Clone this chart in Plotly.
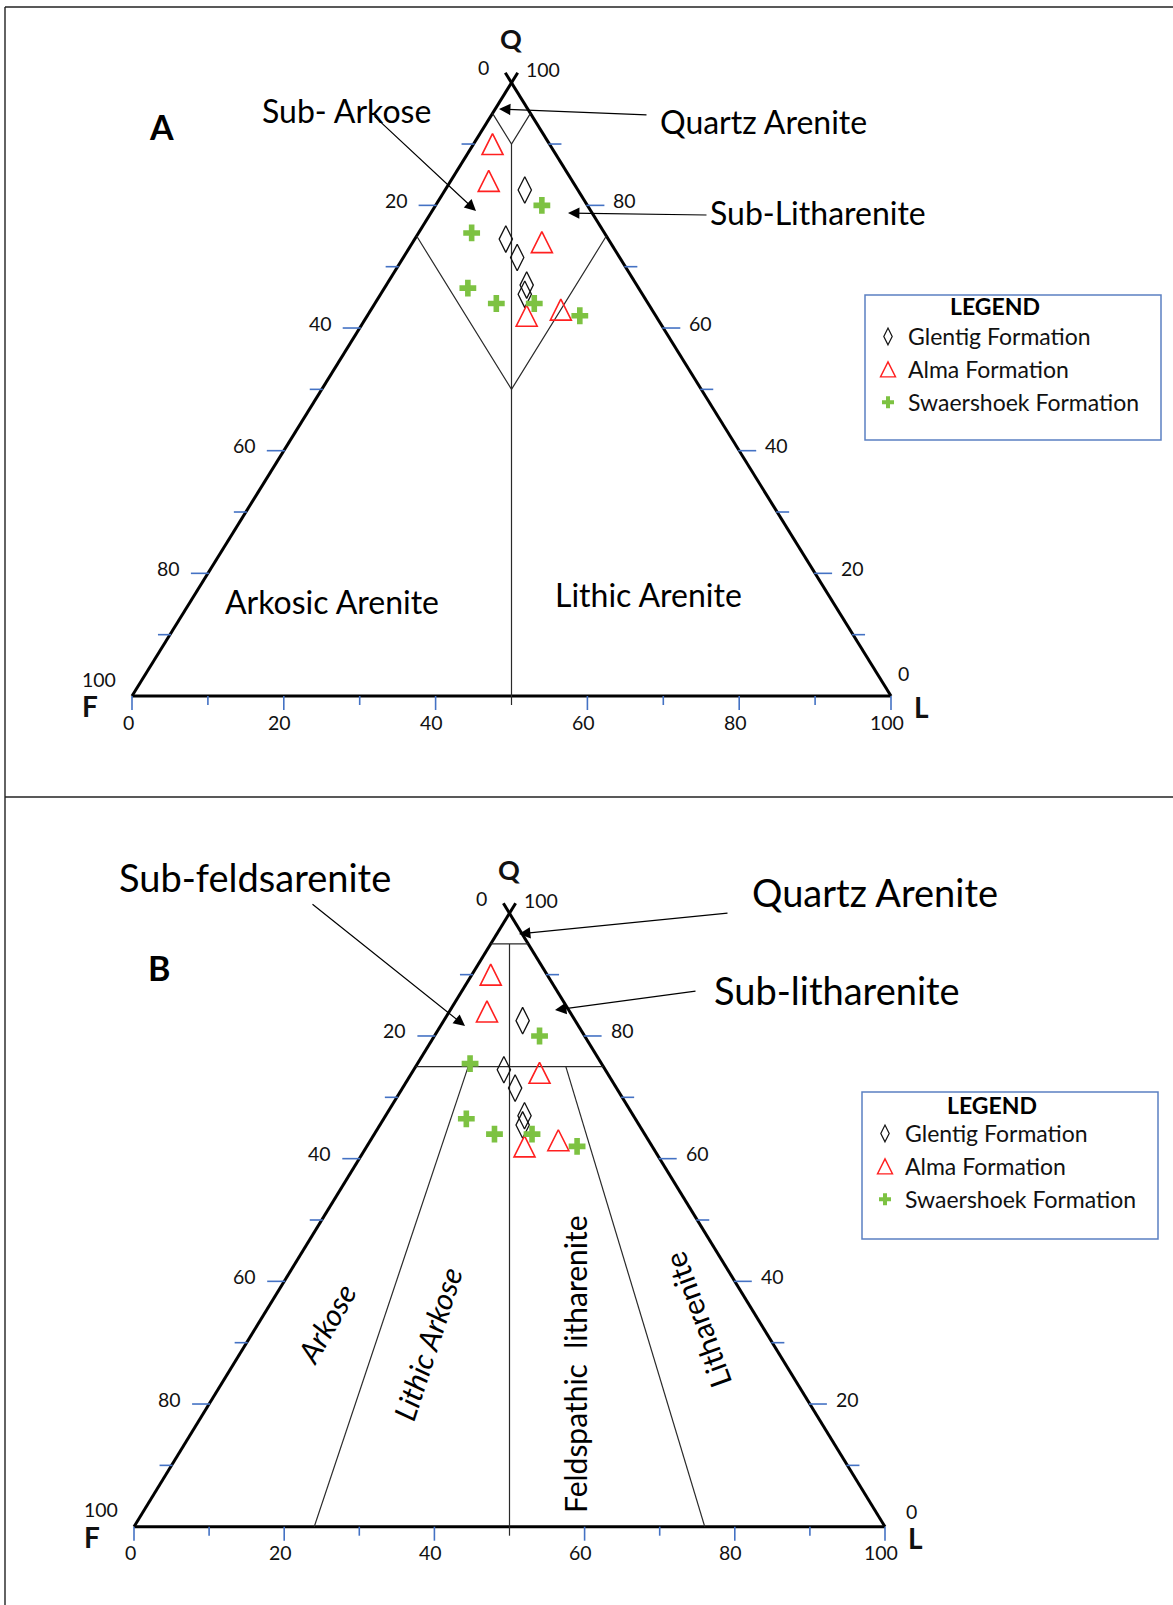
import plotly.graph_objects as go

# ---- sandstone compositions (%): quartz Q, feldspar F, lithic fragments L ----
glentig_q = [82.5, 74.5, 71.5, 67.0, 65.5]
glentig_f = [7.0, 13.5, 13.5, 14.5, 15.5]
glentig_l = [10.5, 12.0, 15.0, 18.5, 19.0]

alma_q = [90.0, 84.0, 74.0, 62.0, 63.0]
alma_f = [7.5, 11.0, 9.0, 17.0, 12.0]
alma_l = [2.5, 5.0, 17.0, 21.0, 25.0]

swaershoek_q = [80.0, 75.5, 66.5, 64.0, 64.0, 62.0]
swaershoek_f = [6.0, 17.5, 22.5, 20.0, 15.0, 10.0]
swaershoek_l = [14.0, 7.0, 11.0, 16.0, 21.0, 28.0]

formation_names = ["Glentig Formation", "Alma Formation", "Swaershoek Formation"]

# axis ticks along every side (percent)
major_ticks = [0, 20, 40, 60, 80, 100]
minor_ticks = [10, 30, 50, 70, 90]

# classification field boundaries, each a polyline of (Q, F, L) vertices
scheme_a_boundaries = [
    [(95, 5, 0), (90, 5, 5), (95, 0, 5)],
    [(90, 5, 5), (0, 50, 50)],
    [(75, 25, 0), (50, 25, 25), (75, 0, 25)],
]
scheme_b_boundaries = [
    [(95, 5, 0), (95, 0, 5)],
    [(75, 25, 0), (75, 0, 25)],
    [(95, 2.5, 2.5), (0, 50, 50)],
    [(75, 18, 7), (0, 76, 24)],
    [(75, 5, 20), (0, 24, 76)],
]

# ---------------------------------------------------------------- layout ----
W, H = 1173, 1605
SPLIT = 797
FONT = "Lato"
BLUE = "#4472C4"
INK = "#111111"

PANELS = {
    "A": dict(x0=132, x1=891, base=696, apex=82.7, top=0, bottom=SPLIT,
              xa="x", ya="y", xaxis="xaxis", yaxis="yaxis", legend="legend",
              boundaries=scheme_a_boundaries, l0=(12, -23)),
    "B": dict(x0=134, x1=885, base=1526.7, apex=913.3, top=SPLIT, bottom=H,
              xa="x2", ya="y2", xaxis="xaxis2", yaxis="yaxis2", legend="legend2",
              boundaries=scheme_b_boundaries, l0=(26, -15)),
}


def to_xy(q, f, l):
    """Ternary (Q, F, L) -> plane coordinates: base F(0)..L(100), apex Q at height 100."""
    s = q + f + l
    q, l = q * 100.0 / s, l * 100.0 / s
    return l + q / 2.0, q


def paper(xp, yp):
    return xp / W, 1 - yp / H


def line_trace(xs, ys, color, width, p):
    return go.Scatter(x=xs, y=ys, mode="lines", line=dict(color=color, width=width),
                      hoverinfo="skip", showlegend=False, xaxis=p["xa"], yaxis=p["ya"])


fig = go.Figure()
annotations = []
shapes = []
layout_axes = {}

RED = "#FF2020"
GREEN = "#7DC242"
# Alma uses an equal-sided open triangle centred on its point: in the plot the
# down-arrow symbol turned half a revolution and pushed back by half its height,
# in the legend the up-arrow lifted by half its height
series = [
    (formation_names[0], glentig_q, glentig_f, glentig_l,
     dict(symbol="diamond-tall-open", size=19, color=INK, line=dict(width=1.3, color=INK)),
     dict(symbol="diamond-tall-open", size=12, color=INK, line=dict(width=1.2, color=INK))),
    (formation_names[1], alma_q, alma_f, alma_l,
     dict(symbol="arrow-down-open", size=21, angle=180, standoff=10.5, color=RED,
          line=dict(width=1.6, color=RED)),
     dict(symbol="arrow-up-open", size=15, standoff=7.5, color=RED,
          line=dict(width=1.4, color=RED))),
    (formation_names[2], swaershoek_q, swaershoek_f, swaershoek_l,
     dict(symbol="cross", size=14, color=GREEN, line=dict(width=0)),
     dict(symbol="cross", size=10, color=GREEN, line=dict(width=0))),
]

for key, p in PANELS.items():
    sx = (p["x1"] - p["x0"]) / 100.0
    sy = (p["base"] - p["apex"]) / 100.0
    layout_axes[p["xaxis"]] = dict(domain=[0, 1], range=[-p["x0"] / sx, (W - p["x0"]) / sx],
                                   visible=False, anchor=p["ya"], fixedrange=True)
    layout_axes[p["yaxis"]] = dict(domain=[1 - p["bottom"] / H, 1 - p["top"] / H],
                                   range=[(p["base"] - p["bottom"]) / sy, (p["base"] - p["top"]) / sy],
                                   visible=False, anchor=p["xa"], fixedrange=True)

    # triangle outline, sides crossing slightly past the Q apex
    ext = 100 + 10 / sy
    fx, fy = to_xy(0, 100, 0)
    lx, ly = to_xy(0, 0, 100)
    ox = [fx, lx, None, fx, ext / 2, None, lx, 100 - ext / 2]
    oy = [fy, ly, None, fy, ext, None, ly, ext]
    fig.add_trace(line_trace(ox, oy, "#000000", 3, p))

    # classification fields
    bx, by = [], []
    for poly in p["boundaries"]:
        for q, f, l in poly:
            x, y = to_xy(q, f, l)
            bx.append(x)
            by.append(y)
        bx.append(None)
        by.append(None)
    fig.add_trace(line_trace(bx, by, "#2A2A2A", 1.2, p))

    # tick marks
    tx, ty = [], []
    kx, ky = [], []
    for v in sorted(major_ticks + minor_ticks):
        major = v in major_ticks
        if 0 < v < 100:
            ln = (17 if major else 12)
            x, y = to_xy(100 - v, v, 0)           # F side
            tx += [x - ln / sx, x + 1 / sx, None]
            ty += [y, y, None]
            x, y = to_xy(v, 0, 100 - v)           # Q side
            tx += [x - 1 / sx, x + ln / sx, None]
            ty += [y, y, None]
        ln = (14 if major else 9) / sy
        x, y = to_xy(0, 100 - v, v)               # L side (base)
        if v == 50:
            kx += [x, x, None]
            ky += [y, y - ln, None]
        else:
            tx += [x, x, None]
            ty += [y, y - ln, None]
    fig.add_trace(line_trace(tx, ty, BLUE, 1.6, p))
    fig.add_trace(line_trace(kx, ky, "#2A2A2A", 1.2, p))

    # tick labels
    def lab(text, x, y, xs, ys, xanchor="center", size=19.5):
        annotations.append(dict(text=text, x=x, y=y, xref=p["xa"], yref=p["ya"],
                                xshift=xs, yshift=ys, xanchor=xanchor, yanchor="middle",
                                showarrow=False, font=dict(family=FONT, size=size, color=INK)))

    for v in major_ticks:
        x, y = to_xy(100 - v, v, 0)
        if v == 0:
            lab(str(v), x, y, -28, 15)
        elif v == 100:
            lab(str(v), x, y, -33, 17)
        else:
            lab(str(v), x, y, -26, 5, "right")
        x, y = to_xy(v, 0, 100 - v)
        if v == 100:
            lab(str(v), x, y, 31, 13)
        elif v == 0:
            lab(str(v), x, y, p["l0"][0], -p["l0"][1])
        else:
            lab(str(v), x, y, 24, 5, "left")
        x, y = to_xy(0, 100 - v, v)
        lab(str(v), x, y, -4, -26)

    # apex letters
    x, y = to_xy(100, 0, 0)
    lab("<b>Q</b>", x, y, -1, 44, size=27)
    x, y = to_xy(0, 100, 0)
    lab("<b>F</b>", x, y, -42, -10, size=28)
    x, y = to_xy(0, 0, 100)
    lab("<b>L</b>", x, y, 30, -11, size=28)

    # compositions
    for name, qs, fs, ls, mk, lg in series:
        pts = [to_xy(q, f, l) for q, f, l in zip(qs, fs, ls)]
        fig.add_trace(go.Scatter(x=[a for a, b in pts], y=[b for a, b in pts], mode="markers",
                                 marker=mk, name=name, showlegend=False,
                                 xaxis=p["xa"], yaxis=p["ya"], cliponaxis=False))
        fig.add_trace(go.Scatter(x=[None], y=[None], mode="markers", marker=lg, name=name,
                                 legend=p["legend"], legendgroup=key,
                                 xaxis=p["xa"], yaxis=p["ya"]))

# ---- field names and pointer arrows (pixel placement) ----
labels = [
    ("<b>A</b>", 161, 126, 34, "normal", 0),
    ("Sub- Arkose", 346, 110, 32, "normal", 0),
    ("Quartz Arenite", 763, 122, 32, "normal", 0),
    ("Sub-Litharenite", 818, 212, 32, "normal", 0),
    ("Arkosic Arenite", 332, 601, 32, "normal", 0),
    ("Lithic Arenite", 648, 594, 32, "normal", 0),
    ("<b>LEGEND</b>", 995, 306, 23, "normal", 0),
    ("<b>B</b>", 159, 967, 34, "normal", 0),
    ("Sub-feldsarenite", 255, 877, 38, "normal", 0),
    ("Quartz Arenite", 875, 892, 38, "normal", 0),
    ("Sub-litharenite", 837, 990, 38, "normal", 0),
    ("Arkose", 326, 1323, 30, "italic", -60),
    ("Lithic Arkose", 427, 1344, 30, "italic", -72),
    ("Feldspathic\u00a0 litharenite", 575, 1364, 30, "normal", -90),
    ("Litharenite", 697, 1320, 30, "normal", -110),
    ("<b>LEGEND</b>", 992, 1105, 23, "normal", 0),
]
for text, xp, yp, size, style, ang in labels:
    x, y = paper(xp, yp)
    annotations.append(dict(text=text, x=x, y=y, xref="paper", yref="paper",
                            xanchor="center", yanchor="middle", showarrow=False,
                            textangle=ang, borderpad=0,
                            font=dict(family=FONT, size=size, color="#000000", style=style)))

arrows = [
    ((373, 115), (476, 211)),
    ((648, 115), (499, 109)),
    ((708, 215), (568, 213)),
    ((311, 903), (465, 1026)),
    ((729, 913), (519, 934)),
    ((697, 991), (555, 1010)),
]
for (tx_, ty_), (hx, hy) in arrows:
    x, y = paper(hx, hy)
    annotations.append(dict(text="", x=x, y=y, xref="paper", yref="paper",
                            ax=tx_ - hx, ay=ty_ - hy, showarrow=True,
                            arrowhead=2, arrowsize=1.9, arrowwidth=1.2, arrowcolor="#000000"))

# ---- outer frame and legend boxes ----
frame = [((5, 7), (W, 7)), ((5, 7), (5, H)), ((5, SPLIT), (W, SPLIT))]
for (xa_, ya_), (xb_, yb_) in frame:
    x0_, y0_ = paper(xa_, ya_)
    x1_, y1_ = paper(xb_, yb_)
    shapes.append(dict(type="line", xref="paper", yref="paper", x0=x0_, y0=y0_, x1=x1_, y1=y1_,
                       line=dict(color="#222222", width=1.4)))

# legend frame (x0, y0, x1, y1) and top of the first entry row, in pixels
legend_boxes = {"legend": ((865, 295, 1161, 440), 315), "legend2": ((862, 1092, 1158, 1239), 1112)}
legend_layout = {}
for name, ((x0p, y0p, x1p, y1p), row_top) in legend_boxes.items():
    x0_, y0_ = paper(x0p, y0p)
    x1_, y1_ = paper(x1p, y1p)
    shapes.append(dict(type="rect", xref="paper", yref="paper", x0=x0_, y0=y1_, x1=x1_, y1=y0_,
                       line=dict(color="#5B80C2", width=1.5), fillcolor="rgba(0,0,0,0)"))
    lx_, ly_ = paper(x0p + 3, row_top)
    legend_layout[name] = dict(
        x=lx_, y=ly_, xanchor="left", yanchor="top",
        bgcolor="rgba(0,0,0,0)", borderwidth=0, itemsizing="trace", tracegroupgap=0,
        font=dict(family=FONT, size=23, color=INK),
    )

fig.update_layout(
    width=W, height=H, autosize=False,
    margin=dict(l=0, r=0, t=0, b=0),
    paper_bgcolor="white", plot_bgcolor="rgba(0,0,0,0)",
    showlegend=True,
    annotations=annotations, shapes=shapes,
    **layout_axes, **legend_layout,
)

fig.write_html("out.html")
